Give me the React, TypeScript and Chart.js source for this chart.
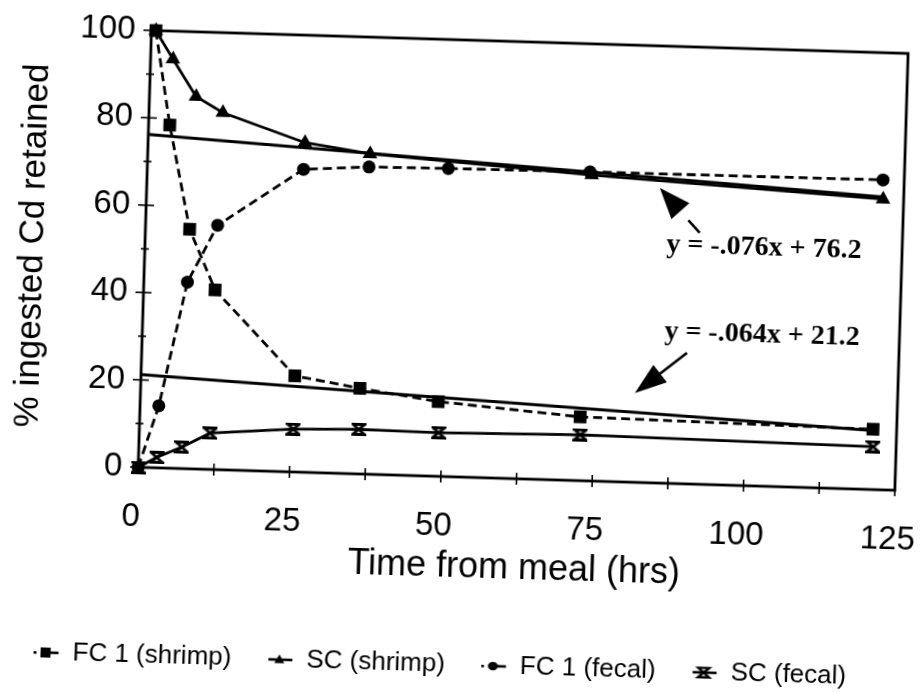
import React, { useEffect, useRef } from 'react';
import { Chart, registerables } from 'chart.js';

Chart.register(...registerables);

// ---------- data ----------
const seriesNames = ['FC 1 (shrimp)', 'SC (shrimp)', 'FC 1 (fecal)', 'SC (fecal)'];

const fcShrimpHours = [0.73, 3.5, 7.3, 11.8, 25.4, 36.2, 49.2, 72.7, 121.1];
const fcShrimpValues = [100, 78.5, 54.8, 41.1, 22.0, 19.6, 17.1, 14.6, 13.8];

const scShrimpHours = [0.73, 3.7, 7.7, 12.2, 25.9, 36.7, 73.4, 121.6];
const scShrimpValues = [100, 93.6, 85.2, 81.7, 75.4, 73.3, 70.0, 66.5];

const fcFecalHours = [0, 3.1, 7.2, 11.9, 25.8, 36.6, 49.7, 73.1, 121.5];
const fcFecalValues = [0, 14.2, 42.7, 55.9, 69.3, 70.3, 70.5, 70.7, 70.9];

const scFecalHours = [0, 3.0, 7.1, 11.7, 25.4, 36.2, 49.4, 72.8, 121.2];
const scFecalValues = [0, 2.4, 4.9, 8.3, 9.8, 10.2, 10.0, 10.5, 9.8];

const upperTrendHours = [0, 121.6];
const upperTrendValues = [76.2, 67.0];
const lowerTrendHours = [0, 121.1];
const lowerTrendValues = [21.2, 13.5];

const trendEquations = ['y = -.076x + 76.2', 'y = -.064x + 21.2'];

const xTickLabels = ['0', '25', '50', '75', '100', '125'];
const yTickLabels = ['0', '20', '40', '60', '80', '100'];

const xTitle = 'Time from meal (hrs)';
const yTitle = '% ingested Cd retained';

// ---------- annotation placement (data units) ----------
const noteLayout = [
  { at: [102.2, 54.5], tip: [84.7, 67.5], tail: [91.5, 57.5], head: 31, half: 12, shaftStart: 43 },
  { at: [102.3, 34.6], tip: [81.6, 20.4], tail: [90.0, 30.0], head: 32, half: 11, shaftStart: 0 },
];

const FONT = "'Liberation Sans', Arial, sans-serif";

function pts(xs: number[], ys: number[]) {
  return xs.map((x, i) => ({ x, y: ys[i] }));
}

function drawShape(g: CanvasRenderingContext2D, kind: string, cx: number, cy: number, s: number) {
  g.fillStyle = '#000';
  g.strokeStyle = '#000';
  if (kind === 'rect') {
    g.fillRect(cx - s / 2, cy - s / 2, s, s);
  } else if (kind === 'triangle') {
    const h = s * 0.87;
    g.beginPath();
    g.moveTo(cx, cy - h * 0.6);
    g.lineTo(cx + s / 2, cy + h * 0.4);
    g.lineTo(cx - s / 2, cy + h * 0.4);
    g.closePath();
    g.fill();
  } else if (kind === 'circle') {
    g.beginPath();
    g.ellipse(cx, cy, s / 2, s * 0.42, 0, 0, Math.PI * 2);
    g.fill();
  } else {
    const w = s, h = s * 0.85;
    g.lineWidth = 2.4;
    g.beginPath();
    g.moveTo(cx - w / 2, cy - h / 2);
    g.lineTo(cx + w / 2, cy - h / 2);
    g.lineTo(cx - w / 2, cy + h / 2);
    g.lineTo(cx + w / 2, cy + h / 2);
    g.closePath();
    g.stroke();
  }
}

function makeHourglass(w: number, h: number) {
  const c = document.createElement('canvas');
  c.width = w;
  c.height = h;
  const g = c.getContext('2d')!;
  g.lineWidth = 2.8;
  g.strokeStyle = '#000';
  g.beginPath();
  g.moveTo(1.5, 1.5);
  g.lineTo(w - 1.5, 1.5);
  g.lineTo(1.5, h - 1.5);
  g.lineTo(w - 1.5, h - 1.5);
  g.closePath();
  g.stroke();
  return c;
}

function makeLegendIcon(kind: string, dashed: boolean) {
  const c = document.createElement('canvas');
  c.width = 26;
  c.height = 16;
  const g = c.getContext('2d')!;
  g.strokeStyle = '#000';
  g.fillStyle = '#000';
  g.lineWidth = 2.6;
  if (dashed) {
    g.fillRect(0, 7, 3, 2.5);
    g.beginPath();
    g.moveTo(13, 8);
    g.lineTo(25, 8);
    g.stroke();
  } else {
    g.beginPath();
    g.moveTo(1, 8);
    g.lineTo(25, 8);
    g.stroke();
  }
  drawShape(g, kind, 12, 8, kind === 'hourglass' ? 11 : 10);
  return c;
}

const framePlugin = {
  id: 'frameTicks',
  beforeDatasetsDraw(chart: any) {
    const { ctx, chartArea: a, scales } = chart;
    const x = scales.x, y = scales.y;
    ctx.save();
    ctx.strokeStyle = '#000';
    ctx.lineWidth = 2.8;
    ctx.strokeRect(a.left, a.top, a.right - a.left, a.bottom - a.top);
    ctx.lineWidth = 1.6;
    x.ticks.forEach((t: any) => {
      const px = x.getPixelForValue(t.value);
      ctx.beginPath();
      ctx.moveTo(px, a.bottom - 6);
      ctx.lineTo(px, a.bottom + 6);
      ctx.stroke();
    });
    y.ticks.forEach((t: any) => {
      const py = y.getPixelForValue(t.value);
      const half = t.value % 20 === 0 ? 8 : 4;
      ctx.beginPath();
      ctx.moveTo(a.left - half, py);
      ctx.lineTo(a.left + half, py);
      ctx.stroke();
    });
    ctx.restore();
  },
};

const notesPlugin = {
  id: 'trendNotes',
  afterDatasetsDraw(chart: any) {
    const { ctx, scales } = chart;
    const x = scales.x, y = scales.y;
    ctx.save();
    ctx.fillStyle = '#000';
    ctx.strokeStyle = '#000';
    ctx.font = "bold 28px 'Liberation Serif', 'Times New Roman', serif";
    ctx.textAlign = 'center';
    ctx.textBaseline = 'middle';
    noteLayout.forEach((n, i) => {
      ctx.fillText(trendEquations[i], x.getPixelForValue(n.at[0]), y.getPixelForValue(n.at[1]));
      const tx = x.getPixelForValue(n.tip[0]), ty = y.getPixelForValue(n.tip[1]);
      const ex = x.getPixelForValue(n.tail[0]), ey = y.getPixelForValue(n.tail[1]);
      const len = Math.hypot(ex - tx, ey - ty);
      const ux = (ex - tx) / len, uy = (ey - ty) / len;
      const bx = tx + ux * n.head, by = ty + uy * n.head;
      const nx = -uy, ny = ux;
      ctx.beginPath();
      ctx.moveTo(tx, ty);
      ctx.lineTo(bx + nx * n.half, by + ny * n.half);
      ctx.lineTo(bx - nx * n.half, by - ny * n.half);
      ctx.closePath();
      ctx.fill();
      ctx.lineWidth = 2.6;
      ctx.beginPath();
      ctx.moveTo(tx + ux * Math.max(n.shaftStart, 10), ty + uy * Math.max(n.shaftStart, 10));
      ctx.lineTo(ex, ey);
      ctx.stroke();
    });
    ctx.restore();
  },
};

export default function App() {
  const ref = useRef<HTMLCanvasElement | null>(null);

  useEffect(() => {
    if (!ref.current) return;
    Chart.defaults.font.family = FONT;
    Chart.defaults.color = '#000';

    const hourglass = makeHourglass(15, 13);
    const legendIcons = [
      makeLegendIcon('rect', true),
      makeLegendIcon('triangle', false),
      makeLegendIcon('circle', true),
      makeLegendIcon('hourglass', false),
    ];

    const base = {
      borderColor: '#000',
      backgroundColor: '#000',
      pointBackgroundColor: '#000',
      pointBorderColor: '#000',
      borderWidth: 2.8,
      tension: 0,
      clip: false as any,
    };

    const chart = new Chart(ref.current, {
      type: 'line',
      data: {
        datasets: [
          { ...base, label: seriesNames[0], data: pts(fcShrimpHours, fcShrimpValues), borderDash: [9, 5], pointStyle: 'rect', pointRadius: 9, pointBorderWidth: 0 },
          { ...base, label: seriesNames[1], data: pts(scShrimpHours, scShrimpValues), pointStyle: 'triangle', pointRadius: 8.5, pointBorderWidth: 0 },
          { ...base, label: seriesNames[2], data: pts(fcFecalHours, fcFecalValues), borderDash: [9, 5], pointStyle: 'circle', pointRadius: 6.5, pointBorderWidth: 0 },
          { ...base, label: seriesNames[3], data: pts(scFecalHours, scFecalValues), pointStyle: hourglass as any, pointRadius: 7 },
          { ...base, label: 'trend1', data: pts(upperTrendHours, upperTrendValues), borderWidth: 3, pointRadius: 0 },
          { ...base, label: 'trend2', data: pts(lowerTrendHours, lowerTrendValues), borderWidth: 3, pointRadius: 0 },
        ] as any,
      },
      options: {
        animation: false,
        responsive: false,
        devicePixelRatio: 1,
        events: [],
        layout: { padding: { top: 60, right: 42, bottom: 25, left: 20 } },
        plugins: {
          tooltip: { enabled: false },
          legend: {
            position: 'bottom',
            align: 'center',
            labels: {
              usePointStyle: true,
              pointStyleWidth: 26,
              padding: 36,
              color: '#000',
              font: { size: 26, family: FONT },
              generateLabels: (ch: any) => {
                const items = Chart.defaults.plugins.legend.labels.generateLabels(ch);
                return items
                  .filter((it: any) => it.datasetIndex < 4)
                  .map((it: any) => ({ ...it, pointStyle: legendIcons[it.datasetIndex], fontColor: '#000' }));
              },
            },
          },
        },
        scales: {
          x: {
            type: 'linear',
            min: 0,
            max: 125,
            afterFit: (s: any) => {
              s.height = 139;
              s.paddingLeft = 0;
              s.paddingRight = 0;
            },
            grid: { display: false, drawTicks: false },
            border: { display: false },
            ticks: {
              stepSize: 12.5,
              autoSkip: false,
              maxRotation: 0,
              minRotation: 0,
              padding: 30,
              labelOffset: -6,
              color: '#000',
              font: { size: 33, family: FONT },
              callback: (v: any) => {
                const n = Number(v);
                return n % 25 === 0 ? xTickLabels[n / 25] : '';
              },
            },
            title: {
              display: true,
              text: xTitle,
              color: '#000',
              font: { size: 36, family: FONT },
              padding: { top: 0, bottom: 27 },
            },
          },
          y: {
            min: 0,
            max: 100,
            afterFit: (s: any) => {
              s.width = 142;
            },
            grid: { display: false, drawTicks: false },
            border: { display: false },
            ticks: {
              stepSize: 10,
              padding: 16,
              color: '#000',
              font: { size: 33, family: FONT },
              callback: (v: any) => {
                const n = Number(v);
                return n % 20 === 0 ? yTickLabels[n / 20] : '';
              },
            },
            title: {
              display: true,
              text: yTitle,
              color: '#000',
              font: { size: 35, family: FONT },
              padding: { top: 9, bottom: 0 },
            },
          },
        },
      } as any,
      plugins: [framePlugin, notesPlugin],
    });

    return () => chart.destroy();
  }, []);

  return (
    <div style={{ position: 'fixed', left: 0, top: 0, width: 921, height: 693, overflow: 'hidden', background: '#fff' }}>
      <div
        style={{
          position: 'absolute',
          left: -20,
          top: -20,
          width: 961,
          height: 733,
          transform: 'rotate(1.74deg)',
          transformOrigin: '50% 50%',
        }}
      >
        <canvas ref={ref} width={961} height={733} style={{ width: 961, height: 733, display: 'block' }} />
      </div>
    </div>
  );
}
